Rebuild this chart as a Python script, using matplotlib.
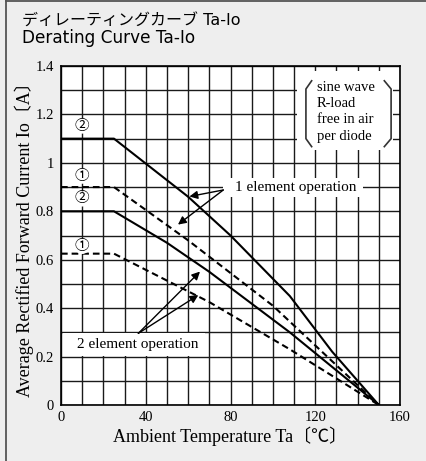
import matplotlib
matplotlib.use('Agg')
import matplotlib.pyplot as plt
from matplotlib.patches import Rectangle
from matplotlib.lines import Line2D
import numpy as np

# ---------------- data ----------------
temp_1el_c2 = [0, 25, 60, 80, 108, 128, 140, 150]
io_1el_c2 = [1.10, 1.10, 0.86, 0.70, 0.45, 0.22, 0.10, 0.0]

temp_1el_c1 = [0, 25, 60, 100, 150]
io_1el_c1 = [0.90, 0.90, 0.68, 0.41, 0.0]

temp_2el_c2 = [0, 25, 50, 70, 108, 150]
io_2el_c2 = [0.80, 0.80, 0.67, 0.55, 0.30, 0.0]

temp_2el_c1 = [0, 25, 70, 108, 150]
io_2el_c1 = [0.625, 0.625, 0.425, 0.23, 0.0]

x_ticks = [0, 40, 80, 120, 160]
x_tick_labels = ['0', '40', '80', '120', '160']
y_ticks = [0, 0.2, 0.4, 0.6, 0.8, 1.0, 1.2, 1.4]
y_tick_labels = ['0', '0.2', '0.4', '0.6', '0.8', '1', '1.2', '1.4']

circle_labels = ['②', '①', '②', '①']
circle_y = [1.152, 0.945, 0.851, 0.655]

legend_lines = ['sine wave', 'R-load', 'free in air', 'per diode']

title_jp = 'ディレーティングカーブ Ta-Io'
title_en = 'Derating Curve Ta-Io'
x_label = 'Ambient Temperature Ta〔℃〕'
y_label = 'Average Rectified Forward Current Io〔A〕'

SERIF = ['Liberation Serif', 'Noto Sans CJK JP', 'DejaVu Sans']
SANS = ['DejaVu Sans', 'Noto Sans CJK JP']

# ---------------- figure ----------------
W, H = 427, 461
fig = plt.figure(figsize=(W / 100, H / 100), dpi=100)
fig.patch.set_facecolor('#eeeeee')

ax = fig.add_axes([61 / W, (H - 405) / H, 339 / W, 339 / H])
ax.set_facecolor('white')
ax.set_xlim(0, 160)
ax.set_ylim(0, 1.4)
ax.set_axisbelow(True)

ax.set_xticks(x_ticks)
ax.set_xticklabels(x_tick_labels, family=SERIF, fontsize=10.5)
ax.set_yticks(y_ticks)
ax.set_yticklabels(y_tick_labels, family=SERIF, fontsize=10.5)
ax.set_xticks(np.arange(0, 161, 10), minor=True)
ax.set_yticks(np.arange(0, 1.41, 0.1), minor=True)
ax.tick_params(which='both', length=0)
ax.tick_params(axis='x', pad=4)
ax.tick_params(axis='y', pad=5)
ax.grid(which='both', color='#1a1a1a', linewidth=1.0)
for s in ax.spines.values():
    s.set_linewidth(1.2)
    s.set_color('black')

ax.set_xlabel(x_label, family=SERIF, fontsize=13, labelpad=2)
ax.set_ylabel(y_label, family=SERIF, fontsize=13, labelpad=1)

# white panels hiding the grid behind annotations
ax.add_patch(Rectangle((111.4, 1.053), 45.4, 0.325, facecolor='white',
                       edgecolor='none', zorder=1))
ax.add_patch(Rectangle((76.5, 0.859), 66.0, 0.078, facecolor='white',
                       edgecolor='none', zorder=1))
ax.add_patch(Rectangle((1.1, 0.203), 66.9, 0.094, facecolor='white',
                       edgecolor='none', zorder=1))

# ---------------- curves ----------------
lw = 1.5
ax.plot(temp_1el_c2, io_1el_c2, color='black', lw=lw, zorder=3)
ax.plot(temp_2el_c2, io_2el_c2, color='black', lw=lw, zorder=3)
ax.plot(temp_1el_c1, io_1el_c1, color='black', lw=lw, zorder=3,
        dashes=(3.2, 1.9))
ax.plot(temp_2el_c1, io_2el_c1, color='black', lw=lw, zorder=3,
        dashes=(3.2, 1.9))

# circled numbers
for lab, yv in zip(circle_labels, circle_y):
    ax.text(10, yv, lab, family=SERIF, fontsize=10.5, ha='center',
            va='center', zorder=4,
            bbox=dict(boxstyle='circle,pad=0.02', fc='white', ec='none'))

# condition box
for i, line in enumerate(legend_lines):
    ax.text(120.8, 1.313 - i * 0.0675, line, family=SERIF, fontsize=10.5,
            ha='left', va='center', zorder=4)
bk = dict(color='#333333', lw=1.2, zorder=4)
ax.plot([118.3, 115.6, 115.6, 118.3], [1.339, 1.305, 1.100, 1.067], **bk)
ax.plot([152.6, 155.8, 155.8, 152.6], [1.339, 1.305, 1.100, 1.067], **bk)

# annotation: 1 element operation
ax.text(111.0, 0.899, '1 element operation', family=SERIF, fontsize=11,
        ha='center', va='center', zorder=4)
ap = dict(arrowstyle='-|>', color='black', lw=1.0, mutation_scale=12,
          shrinkA=0, shrinkB=0)
ax.annotate('', xy=(60.6, 0.861), xytext=(76.6, 0.888), arrowprops=ap,
            zorder=4)
ax.annotate('', xy=(55.2, 0.745), xytext=(76.6, 0.888), arrowprops=ap,
            zorder=4)

# annotation: 2 element operation
ax.text(36.0, 0.248, '2 element operation', family=SERIF, fontsize=11,
        ha='center', va='center', zorder=4)
ax.annotate('', xy=(65.6, 0.551), xytext=(36.5, 0.296), arrowprops=ap,
            zorder=4)
ax.annotate('', xy=(64.8, 0.454), xytext=(36.5, 0.296), arrowprops=ap,
            zorder=4)

# ---------------- titles ----------------
fig.text(22 / W, 1 - 21.5 / H, title_jp, family=SANS, fontsize=11.5,
         ha='left', va='center')
fig.text(22 / W, 1 - 38 / H, title_en, family=SANS, fontsize=12.2,
         ha='left', va='center')

# frame lines (left and top)
fig.add_artist(Line2D([6 / W, 6 / W], [0, 1], transform=fig.transFigure,
                      color='#555555', lw=1.3))
fig.add_artist(Line2D([6 / W, 1], [1 - 1 / H, 1 - 1 / H],
                      transform=fig.transFigure, color='#555555', lw=1.3))

fig.savefig('out.png', dpi=100, facecolor=fig.get_facecolor())
